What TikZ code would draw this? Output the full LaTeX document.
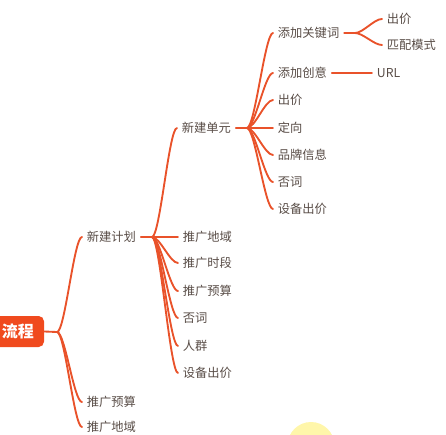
\documentclass[tikz,border=0pt]{standalone}
\usepackage{fontspec}
\setmainfont{Noto Sans CJK SC}
\definecolor{linec}{RGB}{233,82,42}
\definecolor{rootc}{RGB}{240,74,30}
\definecolor{txtc}{RGB}{88,76,70}
\definecolor{hlc}{RGB}{255,246,170}
\tikzset{
 topic/.style={anchor=west, inner xsep=3.5pt, inner ysep=1pt, text=txtc, font=\fontsize{9.2}{11}\selectfont},
 link/.style={draw=linec, line width=1.4pt, line cap=round},
 rootbox/.style={fill=rootc, rounded corners=4pt, text=white, font=\fontsize{12}{14}\selectfont\bfseries, minimum width=39pt, minimum height=23.25pt, inner sep=0pt},
 br/.style={out=0, in=180, distance=6pt}
}
\begin{document}
\begin{tikzpicture}[x=0.75pt,y=-0.75pt]
\useasboundingbox (0,0) rectangle (446,435);
\begin{scope}
\clip (0,0) rectangle (446,435);
\fill[hlc] (311,445.5) circle[radius=23.5];
\node[rootbox] (root) at (18,331.5) {流程};
\end{scope}
% junctions
\coordinate (j0) at (57,332);
\coordinate (j1) at (152,237);
\coordinate (j2) at (247,128);
\coordinate (j3) at (355,33);
% level 1
\node[topic] (plan) at (82,237) {新建计划};
\node[topic] (b1) at (82,402) {推广预算};
\node[topic] (r1) at (82,427) {推广地域};
% level 2
\node[topic] (unit) at (177,128) {新建单元};
\node[topic] (p1) at (178,237) {推广地域};
\node[topic] (p2) at (178,263) {推广时段};
\node[topic] (p3) at (178,291) {推广预算};
\node[topic] (p4) at (178,318) {否词};
\node[topic] (p5) at (178,346) {人群};
\node[topic] (p6) at (178,373) {设备出价};
% level 3
\node[topic] (kw) at (273,33) {添加关键词};
\node[topic] (cr) at (273,73) {添加创意};
\node[topic] (u3) at (273,100) {出价};
\node[topic] (u4) at (273,128) {定向};
\node[topic] (u5) at (273,155) {品牌信息};
\node[topic] (u6) at (273,182) {否词};
\node[topic] (u7) at (273,209) {设备出价};
% level 4
\node[topic] (k1) at (382,19) {出价};
\node[topic] (k2) at (382,45) {匹配模式};
\node[topic] (url) at (372,73) {URL};
% links
\draw[link] (root.east) -- (j0);
\foreach \t in {plan,b1,r1} \draw[link] (j0) to[br] (\t.west);
\draw[link] (plan.east) -- (j1);
\foreach \t in {unit,p1,p2,p3,p4,p5,p6} \draw[link] (j1) to[br] (\t.west);
\draw[link] (unit.east) -- (j2);
\foreach \t in {kw,cr,u3,u4,u5,u6,u7} \draw[link] (j2) to[br] (\t.west);
\draw[link] (kw.east) -- (j3);
\foreach \t in {k1,k2} \draw[link] (j3) to[br] (\t.west);
\draw[link] (cr.east) -- (url.west);
\end{tikzpicture}
\end{document}
